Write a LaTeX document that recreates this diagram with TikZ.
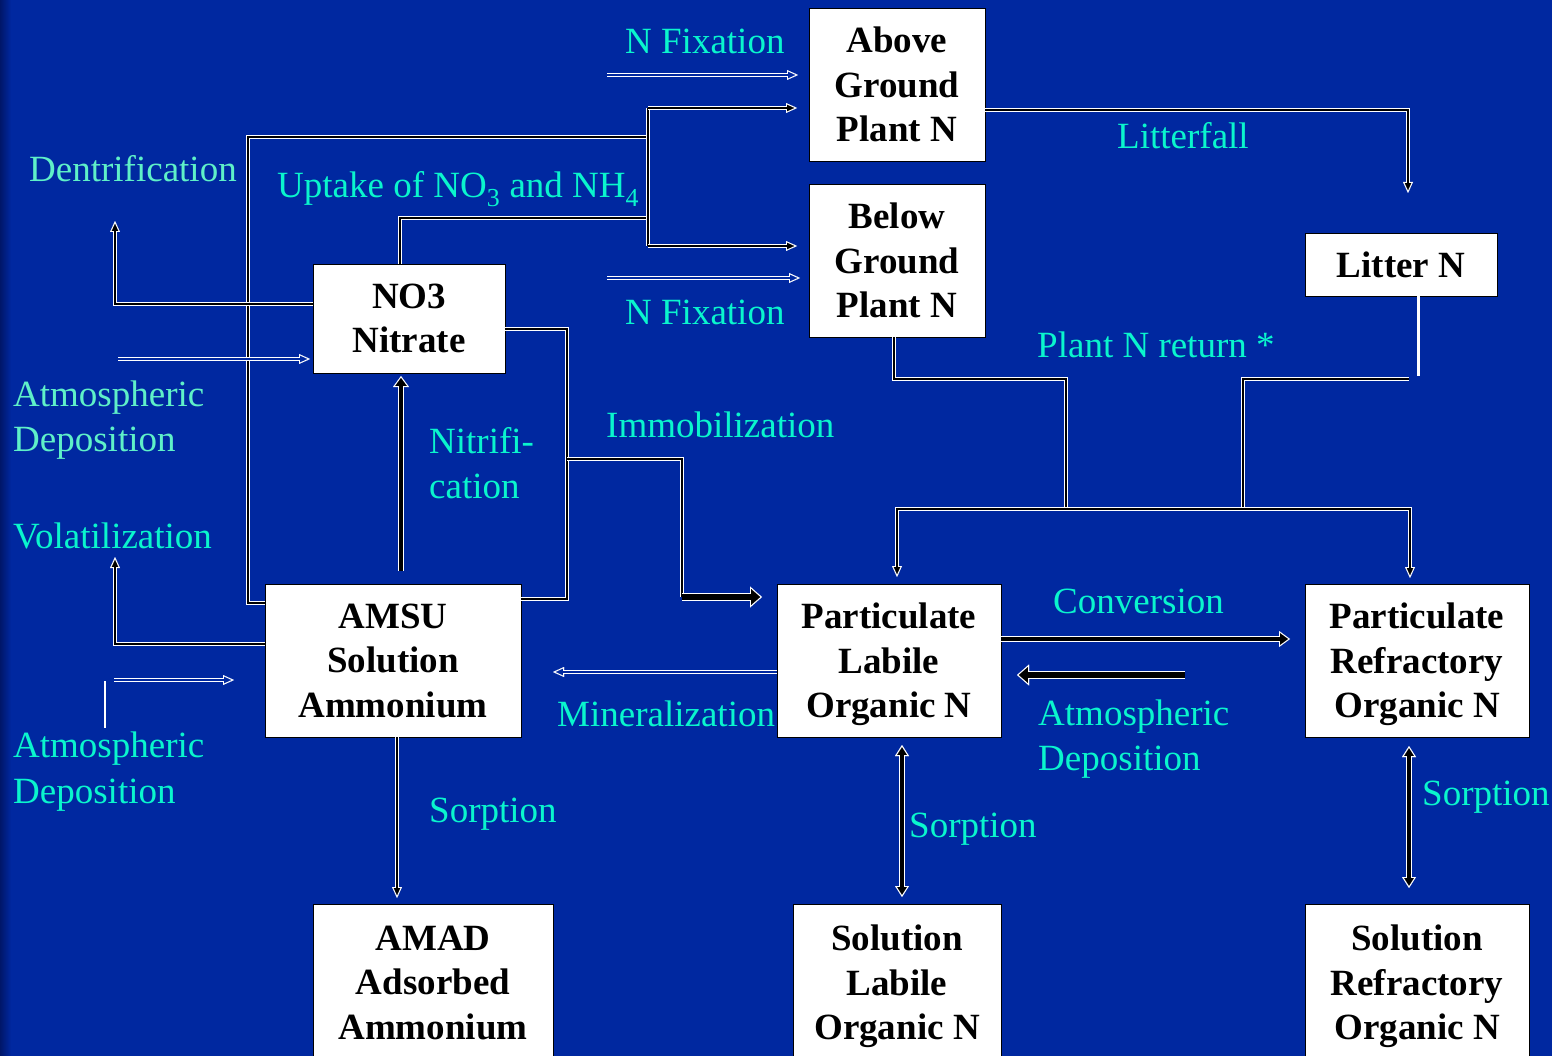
\documentclass[tikz,border=0pt]{standalone}
\usepackage{fontspec}
\setmainfont{Liberation Serif}
\usetikzlibrary{arrows.meta}

\definecolor{bgblue}{RGB}{0,40,160}
\definecolor{bgdark}{RGB}{0,22,105}
\definecolor{flowtext}{RGB}{10,245,205}
\definecolor{flowpale}{RGB}{95,240,200}

\newcommand\boxfont{\bfseries\fontsize{37}{44.5}\selectfont}
\newcommand\lblfont{\fontsize{37}{45}\selectfont}
% a flow line: white outline pass, then core pass
% #1 line weight, #2 arrow kind, #3 path
\newcommand\flowpath[3]{%
  \draw[#1 out,#2 out] #3;
  \draw[#1 in,#2 in] #3;}

\begin{document}
\begin{tikzpicture}[x=1pt,y=-1pt,
  pool/.style={draw=black, line width=0.8pt, fill=white, inner sep=0pt,
    align=center, font=\boxfont, text=black, text depth=0pt},
  lbl/.style={font=\lblfont, text=flowtext, anchor=base west, inner sep=0pt},
  pale/.style={lbl, text=flowpale},
  % line weights
  flow out/.style={draw=white, line width=3.6pt},
  flow in/.style={draw=black, line width=1.5pt},
  hollow out/.style={draw=white, line width=4.4pt},
  hollow in/.style={draw=bgblue, line width=2pt},
  mid out/.style={draw=white, line width=5.6pt},
  mid in/.style={draw=black, line width=3.4pt},
  heavy out/.style={draw=white, line width=8.4pt},
  heavy in/.style={draw=black, line width=6pt},
  % arrow kinds
  none out/.style={}, none in/.style={},
  sE out/.style={-{Triangle[length=11pt,width=10pt,line width=0.01pt]}},
  sE in/.style={-{Triangle[length=6.9pt,width=6.3pt,line width=0.01pt]}, shorten >=2.9pt},
  sB out/.style={{Triangle[length=11pt,width=10pt,line width=0.01pt]}-{Triangle[length=11pt,width=10pt,line width=0.01pt]}},
  sB in/.style={{Triangle[length=6.9pt,width=6.3pt,line width=0.01pt]}-{Triangle[length=6.9pt,width=6.3pt,line width=0.01pt]}, shorten >=2.9pt, shorten <=2.9pt},
  mE out/.style={-{Triangle[length=11pt,width=16pt,line width=0.01pt]}},
  mE in/.style={-{Triangle[length=7.8pt,width=11.3pt,line width=0.01pt]}, shorten >=2pt},
  mB out/.style={{Triangle[length=11pt,width=14pt,line width=0.01pt]}-{Triangle[length=11pt,width=14pt,line width=0.01pt]}},
  mB in/.style={{Triangle[length=7.5pt,width=9.5pt,line width=0.01pt]}-{Triangle[length=7.5pt,width=9.5pt,line width=0.01pt]}, shorten >=2.3pt, shorten <=2.3pt},
  bE out/.style={-{Triangle[length=12pt,width=21pt,line width=0.01pt]}},
  bE in/.style={-{Triangle[length=8.9pt,width=15.6pt,line width=0.01pt]}, shorten >=1.9pt},
]
\useasboundingbox (0,0) rectangle (1552,1056);
\clip (0,0) rectangle (1552,1056);
\fill[bgblue] (0,0) rectangle (1552,1056);
\shade[left color=bgdark, right color=bgblue] (0,0) rectangle (11,1056);

% ---------- pools ----------
\node[pool, minimum width=176, minimum height=153] (ag) at (897,84.5) {Above\\Ground\\Plant N};
\node[pool, minimum width=176, minimum height=153] (bg) at (897,260.5) {Below\\Ground\\Plant N};
\node[pool, minimum width=192, minimum height=63] (litter) at (1401,264.5) {Litter N};
\node[pool, minimum width=192, minimum height=109] (no3) at (409,318.5) {NO3\\Nitrate};
\node[pool, minimum width=256, minimum height=153] (amsu) at (393,660.5) {AMSU\\Solution\\Ammonium};
\node[pool, minimum width=224, minimum height=153] (pl) at (889,660.5) {Particulate\\Labile\\Organic N};
\node[pool, minimum width=224, minimum height=153] (pr) at (1417,660.5) {Particulate\\Refractory\\Organic N};
\node[pool, minimum width=240, minimum height=157] (amad) at (433,982.5) {AMAD\\Adsorbed\\Ammonium};
\node[pool, minimum width=208, minimum height=157] (sl) at (897,982.5) {Solution\\Labile\\Organic N};
\node[pool, minimum width=224, minimum height=157] (sr) at (1417,982.5) {Solution\\Refractory\\Organic N};

% ---------- free ends and bends ----------
\coordinate (fixA0) at (607,75);  \coordinate (fixA1) at (798,75);
\coordinate (fixB0) at (607,278); \coordinate (fixB1) at (800,278);
\coordinate (upT) at (648,108);   \coordinate (upB) at (648,246);
\coordinate (upTe) at (797,108);  \coordinate (upBe) at (797,246);
\coordinate (fallEnd) at (1408,193);
\coordinate (denEnd) at (115,221);
\coordinate (atmN0) at (118,359); \coordinate (atmN1) at (310,359);
\coordinate (volEnd) at (115,557);
\coordinate (atmS0) at (114,680); \coordinate (atmS1) at (234,680);
\coordinate (minEnd) at (553,672);
\coordinate (immEnd) at (762,597);
\coordinate (convEnd) at (1290,639);
\coordinate (atmR0) at (1185,675); \coordinate (atmR1) at (1017,675);
\coordinate (busL) at (897,577);  \coordinate (busR) at (1410,578);
\coordinate (nitEnd) at (401,376);
\coordinate (sorAEnd) at (397,898);

% ---------- uptake by plants ----------
\flowpath{flow}{none}{(amsu.west |- 0,603) -- (248,603) -- (248,137) -- (upT |- 0,137)}
\flowpath{flow}{none}{(no3.north -| 400,0) -- (400,218) -- (upT |- 0,218)}
\flowpath{flow}{none}{(upT) -- (upB)}
\flowpath{flow}{sE}{(upT) -- (upTe)}
\flowpath{flow}{sE}{(upB) -- (upBe)}

% ---------- N fixation ----------
\flowpath{hollow}{sE}{(fixA0) -- (fixA1)}
\flowpath{hollow}{sE}{(fixB0) -- (fixB1)}

% ---------- litterfall and plant N return ----------
\flowpath{flow}{sE}{(ag.east |- 0,110) -- (1408,110) -- (fallEnd)}
\draw[white, line width=3pt] (litter.south -| 1418,0) -- (1418,376);
\flowpath{flow}{none}{(bg.south -| 894,0) -- (894,379) -- (1066,379) -- (1066,509)}
\flowpath{flow}{none}{(1409,379) -- (1243,379) -- (1243,509)}
\flowpath{flow}{sB}{(busL) -- (897,509) -- (1410,509) -- (busR)}

% ---------- nitrate ----------
\flowpath{flow}{sE}{(no3.west |- 0,304) -- (115,304) -- (denEnd)}
\flowpath{hollow}{sE}{(atmN0) -- (atmN1)}
\flowpath{flow}{none}{(no3.east |- 0,329) -- (567,329) -- (567,599) -- (amsu.east |- 0,599)}
\flowpath{flow}{none}{(567,459) -- (682,459) -- (682,597)}
\flowpath{heavy}{bE}{(682,597) -- (immEnd)}
\flowpath{mid}{mE}{(401,571) -- (nitEnd)}

% ---------- ammonium ----------
\flowpath{flow}{sE}{(amsu.west |- 0,644) -- (115,644) -- (volEnd)}
\flowpath{hollow}{sE}{(atmS0) -- (atmS1)}
\draw[white, line width=1.2pt] (105,681) -- (105,728);
\flowpath{hollow}{sE}{(pl.west |- 0,672) -- (minEnd)}
\flowpath{flow}{sE}{(amsu.south -| 397,0) -- (sorAEnd)}

% ---------- organic pools ----------
\flowpath{mid}{mE}{(pl.east |- 0,639) -- (convEnd)}
\flowpath{heavy}{bE}{(atmR0) -- (atmR1)}
\flowpath{mid}{mB}{(902,745) -- (902,897)}
\flowpath{mid}{mB}{(1409,746) -- (1409,888)}

% ---------- process labels ----------
\node[lbl] (lfixA) at (625,54) {N Fixation};
\node[lbl] (lfixB) at (625,325) {N Fixation};
\node[pale] (lden) at (29,182) {Dentrification};
\node[lbl] (lup) at (277,198) {Uptake of NO\textsubscript{3} and NH\textsubscript{4}};
\node[lbl] (lfall) at (1117,149) {Litterfall};
\node[lbl] (lret) at (1037,357) {Plant N return *};
\node[pale] (latmN1) at (13,406) {Atmospheric};
\node[pale] (latmN2) at (13,451) {Deposition};
\node[lbl] (lnit1) at (429,453) {Nitrifi-};
\node[lbl] (lnit2) at (429,498) {cation};
\node[lbl] (limm) at (606,437) {Immobilization};
\node[lbl] (lvol) at (13,548) {Volatilization};
\node[lbl] (lconv) at (1053,613) {Conversion};
\node[lbl] (lmin) at (557,726) {Mineralization};
\node[lbl] (latmR1) at (1038,725) {Atmospheric};
\node[lbl] (latmR2) at (1038,770) {Deposition};
\node[lbl] (latmS1) at (13,757) {Atmospheric};
\node[lbl] (latmS2) at (13,803) {Deposition};
\node[lbl] (lsorA) at (429,822) {Sorption};
\node[lbl] (lsorB) at (909,837) {Sorption};
\node[lbl] (lsorC) at (1422,805) {Sorption};
\end{tikzpicture}
\end{document}
